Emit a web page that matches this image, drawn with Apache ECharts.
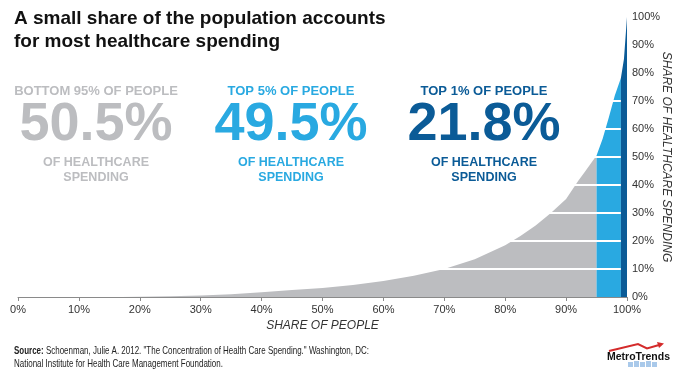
<!DOCTYPE html>
<html>
<head>
<meta charset="utf-8">
<script src="https://cdn.jsdelivr.net/npm/echarts@6/dist/echarts.min.js"></script>
<style>html,body{margin:0;padding:0;background:#fff}#c{width:685px;height:379px}</style>
</head>
<body>
<div id="c"></div>
<script>
// Share of people (x, %) and cumulative share of healthcare spending (y, %)
const peopleShare   = [0, 10, 17, 20, 25, 30, 35, 40, 45, 50, 55, 60, 65, 70, 75, 80, 82.5, 85, 87.5, 90, 92, 93, 94, 95, 96, 97, 98, 99, 99.5, 100];
const spendingShare = [0, 0, 0, 0.1, 0.3, 0.5, 1.0, 1.7, 2.5, 3.2, 4.3, 5.7, 7.6, 10.0, 13.5, 18.5, 21.8, 25.5, 30.0, 35.0, 41.5, 44.5, 47.5, 50.5, 56.5, 64.0, 72.0, 78.2, 85, 100];
const xTicks = [0, 10, 20, 30, 40, 50, 60, 70, 80, 90, 100];
const yTicks = [0, 10, 20, 30, 40, 50, 60, 70, 80, 90, 100];
const gridLevels = [10, 20, 30, 40, 50, 60, 70, 80, 90];
const bottomCut = 95, topCut = 99;

const GRAY = '#bcbdc0', LBLUE = '#29a9e1', DBLUE = '#0b5b97';

const pts = peopleShare.map((x, i) => [x, spendingShare[i]]);
const seg = (a, b) => pts.filter(p => p[0] >= a && p[0] <= b);

const chart = echarts.init(document.getElementById('c'), null, {renderer: 'canvas'});
const baseSeries = {
  type: 'line', symbol: 'none', smooth: false,
  lineStyle: {width: 0}, silent: true, animation: false
};
const bigFont = 'bold 54px "Liberation Sans", Arial, sans-serif';
const smallFont = 'bold 13px "Liberation Sans", Arial, sans-serif';
const lowFont = 'bold 12.5px "Liberation Sans", Arial, sans-serif';
function block(cx, color, top, big) {
  return [
    {type: 'text', z: 100, x: cx, y: 91, style: {text: top, font: smallFont, fill: color, align: 'center', verticalAlign: 'middle'}},
    {type: 'text', z: 100, x: cx, y: 125, style: {text: big, font: bigFont, fill: color, align: 'center', verticalAlign: 'middle'}},
    {type: 'text', z: 100, x: cx, y: 162.5, style: {text: 'OF HEALTHCARE', font: lowFont, fill: color, align: 'center', verticalAlign: 'middle'}},
    {type: 'text', z: 100, x: cx, y: 178, style: {text: 'SPENDING', font: lowFont, fill: color, align: 'center', verticalAlign: 'middle'}}
  ];
}
const srcFont = '10.5px "Liberation Sans", Arial, sans-serif';

chart.setOption({
  animation: false,
  backgroundColor: '#fff',
  title: {
    text: 'A small share of the population accounts\nfor most healthcare spending',
    left: 9, top: 2,
    textStyle: {fontFamily: '"Liberation Sans", Arial, sans-serif', fontSize: 19, fontWeight: 'bold', color: '#111', lineHeight: 23}
  },
  grid: {left: 18, right: 58, top: 17, bottom: 82, containLabel: false, outerBoundsMode: 'none'},
  xAxis: {
    type: 'value', min: 0, max: 100, interval: 10,
    name: 'SHARE OF PEOPLE', nameLocation: 'middle', nameGap: 23,
    nameTextStyle: {fontFamily: '"Liberation Sans", Arial, sans-serif', fontStyle: 'italic', fontSize: 12, color: '#333'},
    axisLine: {show: true, lineStyle: {color: '#8a8a8a', width: 1}},
    axisTick: {show: true, length: 4, lineStyle: {color: '#8a8a8a'}},
    axisLabel: {formatter: v => xTicks.includes(v) ? v + '%' : '', fontFamily: '"Liberation Sans", Arial, sans-serif', fontSize: 11, color: '#333', margin: 7},
    splitLine: {show: false}
  },
  yAxis: {
    type: 'value', position: 'right', min: 0, max: 100, interval: 10,
    name: 'SHARE OF HEALTHCARE SPENDING', nameLocation: 'middle', nameGap: 33, nameRotate: -90, nameMoveOverlap: false,
    nameTextStyle: {fontFamily: '"Liberation Sans", Arial, sans-serif', fontStyle: 'italic', fontSize: 12, color: '#333'},
    axisLine: {show: false}, axisTick: {show: false},
    axisLabel: {formatter: v => yTicks.includes(v) ? v + '%' : '', fontFamily: '"Liberation Sans", Arial, sans-serif', fontSize: 11, color: '#333', margin: 5},
    splitLine: {show: false}
  },
  series: [
    Object.assign({}, baseSeries, {name: 'Bottom 95%', data: seg(0, bottomCut), areaStyle: {color: GRAY, opacity: 1}, z: 2,
      markLine: {silent: true, symbol: 'none', label: {show: false}, animation: false,
        lineStyle: {color: '#fff', width: 2, type: 'solid'}, z: 5,
        data: gridLevels.map(v => ({yAxis: v}))}}),
    Object.assign({}, baseSeries, {name: 'Top 5%', data: seg(bottomCut, topCut), areaStyle: {color: LBLUE, opacity: 1}, z: 3}),
    Object.assign({}, baseSeries, {name: 'Top 1%', data: seg(topCut, 100), areaStyle: {color: DBLUE, opacity: 1}, z: 8})
  ],
  graphic: [].concat(
    block(96, GRAY, 'BOTTOM 95% OF PEOPLE', '50.5%'),
    block(291, LBLUE, 'TOP 5% OF PEOPLE', '49.5%'),
    block(484, DBLUE, 'TOP 1% OF PEOPLE', '21.8%'),
    [
      {type: 'text', z: 100, x: 14, y: 351, scaleX: 0.76, style: {
        text: '{b|Source:} Schoenman, Julie A. 2012. "The Concentration of Health Care Spending." Washington, DC:',
        font: srcFont, fill: '#222', verticalAlign: 'middle',
        rich: {b: {fontWeight: 'bold', fontFamily: '"Liberation Sans", Arial, sans-serif', fontSize: 10.5, fill: '#222'}}}},
      {type: 'text', z: 100, x: 14, y: 364, scaleX: 0.76, style: {
        text: 'National Institute for Health Care Management Foundation.',
        font: srcFont, fill: '#222', verticalAlign: 'middle'}},
      // MetroTrends logo
      {type: 'polyline', z: 100, shape: {points: [[609, 351], [638, 344], [647, 348.5], [659, 345]]}, style: {stroke: '#d42b2b', lineWidth: 2, fill: null}},
      {type: 'polygon', z: 100, shape: {points: [[664, 343.5], [657, 342], [659, 348]]}, style: {fill: '#d42b2b'}},
      {type: 'text', z: 100, x: 607, y: 357, style: {text: 'MetroTrends', font: 'bold 10.5px "Liberation Sans", Arial, sans-serif', fill: '#111', verticalAlign: 'middle', align: 'left'}},
      {type: 'rect', z: 100, shape: {x: 628, y: 362, width: 5, height: 5}, style: {fill: '#a9c9ea'}},
      {type: 'rect', z: 100, shape: {x: 634, y: 361, width: 5, height: 6}, style: {fill: '#a9c9ea'}},
      {type: 'rect', z: 100, shape: {x: 640, y: 362, width: 5, height: 5}, style: {fill: '#a9c9ea'}},
      {type: 'rect', z: 100, shape: {x: 646, y: 361, width: 5, height: 6}, style: {fill: '#a9c9ea'}},
      {type: 'rect', z: 100, shape: {x: 652, y: 362, width: 5, height: 5}, style: {fill: '#a9c9ea'}}
    ]
  )
});
</script>
</body>
</html>
